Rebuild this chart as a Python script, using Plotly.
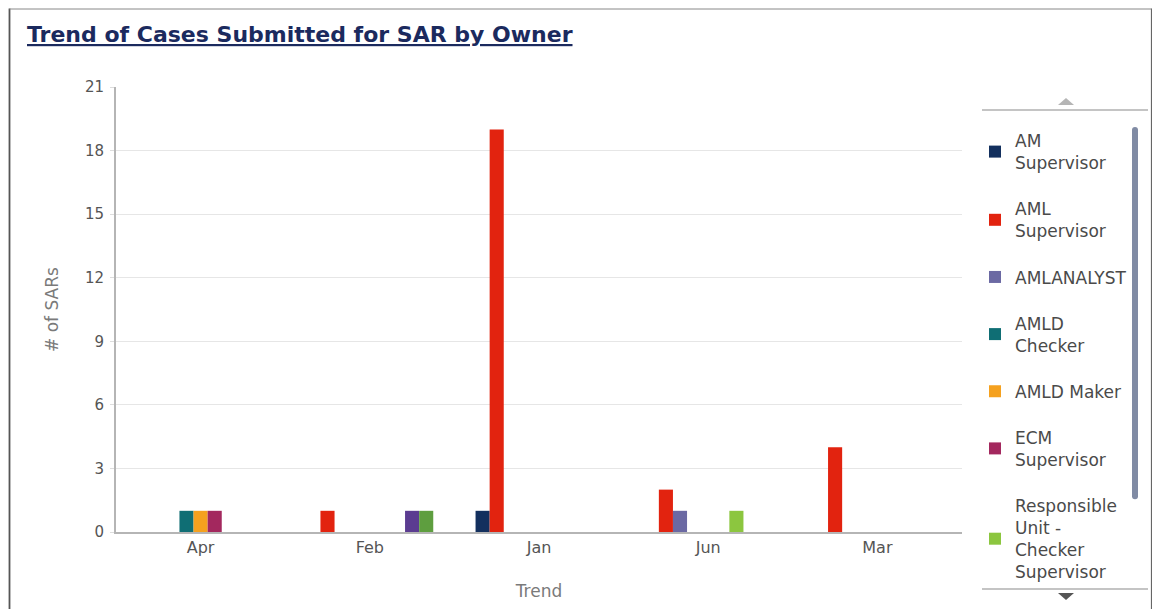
import plotly.graph_objects as go

# ---- data ----
categories = ["Apr", "Feb", "Jan", "Jun", "Mar"]
owners = [
    "AM<br>Supervisor",
    "AML<br>Supervisor",
    "AMLANALYST",
    "AMLD<br>Checker",
    "AMLD Maker",
    "ECM<br>Supervisor",
    "Responsible<br>Unit -<br>Checker<br>Supervisor",
    "User In<br>Review",
    "Unassigned",
]
am_supervisor = [0, 0, 1, 0, 0]
aml_supervisor = [0, 1, 19, 2, 4]
amlanalyst = [0, 0, 0, 1, 0]
amld_checker = [1, 0, 0, 0, 0]
amld_maker = [1, 0, 0, 0, 0]
ecm_supervisor = [1, 0, 0, 0, 0]
responsible_unit = [0, 0, 0, 1, 0]
user_in = [0, 1, 0, 0, 0]
unassigned = [0, 1, 0, 0, 0]
series = [am_supervisor, aml_supervisor, amlanalyst, amld_checker, amld_maker,
          ecm_supervisor, responsible_unit, user_in, unassigned]
colors = ["#13305E", "#E2230F", "#6B69A3", "#0F6E74", "#F5A11F",
          "#A3285E", "#8CC63F", "#5B3C91", "#5E9E3F"]
y_ticks = [0, 3, 6, 9, 12, 15, 18, 21]

# ---- layout geometry (page pixels; the page body adds an 8px offset) ----
OFF = 8
W, H = 1160 - OFF, 609 - OFF
PX0, PX1, PY0, PY1 = 116, 962, 87, 532   # plot area in page pixels
L, R = PX0 - OFF, W - (PX1 - OFF)
T, B = PY0 - OFF, H - (PY1 - OFF)
PW, PH = W - L - R, H - T - B


def px_x(x):
    return (x - OFF - L) / PW


def px_y(y):
    return (H - B - (y - OFF)) / PH


fig = go.Figure()
for i, (name, vals) in enumerate(zip(owners, series)):
    fig.add_trace(go.Bar(
        x=categories,
        y=[v if v else None for v in vals],
        name=name,
        legendgroup="g%d" % i,
        marker=dict(color=colors[i], line=dict(width=0)),
        hovertemplate="%{x}: %{y}<extra></extra>",
    ))


def hline(x0, x1, y, color, width):
    return dict(type="line", xref="paper", yref="paper",
                x0=px_x(x0), x1=px_x(x1), y0=px_y(y), y1=px_y(y),
                line=dict(color=color, width=width))


def vline(x, y0, y1, color, width):
    return dict(type="line", xref="paper", yref="paper",
                x0=px_x(x), x1=px_x(x), y0=px_y(y0), y1=px_y(y1),
                line=dict(color=color, width=width))


shapes = [
    # outer frame
    vline(9.5, 8.5, 609, "#555555", 1.8),
    vline(1151.5, 8.5, 609, "#666666", 1.2),
    hline(9.5, 1151.5, 9, "#888888", 1.0),
    # legend scroll separators
    hline(982, 1148, 110, "#8a8a8a", 1.2),
    hline(982, 1148, 589, "#8a8a8a", 1.2),
    # up arrow
    dict(type="path", xref="paper", yref="paper",
         path="M %f,%f L %f,%f L %f,%f Z" % (px_x(1058), px_y(105), px_x(1074), px_y(105),
                                           px_x(1066), px_y(98)),
         fillcolor="#b5b5b5", line=dict(width=0)),
    # down arrow
    dict(type="path", xref="paper", yref="paper",
         path="M %f,%f L %f,%f L %f,%f Z" % (px_x(1058), px_y(593), px_x(1074), px_y(593),
                                           px_x(1066), px_y(600)),
         fillcolor="#555555", line=dict(width=0)),
]

fig.update_layout(
    width=W, height=H,
    margin=dict(l=L, r=R, t=T, b=B, autoexpand=False),
    paper_bgcolor="white", plot_bgcolor="white",
    barmode="group", bargap=0.25, bargroupgap=0,
    font=dict(family="DejaVu Sans", size=15, color="#555555"),
    title=dict(
        text="<b>Trend of Cases Submitted for SAR by Owner</b>",
        x=(27 - OFF) / W, xanchor="left", xref="container",
        y=1 - (42 - OFF) / H, yanchor="bottom", yref="container",
        font=dict(family="DejaVu Sans", size=22, color="#1B2A5E", lineposition="under"),
    ),
    xaxis=dict(
        title=dict(text="Trend", font=dict(size=17, color="#7a7a7a"), standoff=29),
        showline=True, linecolor="#b5b5b5", linewidth=2,
        ticks="", tickfont=dict(size=16, color="#555555"),
        showgrid=False, fixedrange=True,
    ),
    yaxis=dict(
        title=dict(text="# of SARs", font=dict(size=17, color="#7a7a7a"), standoff=22),
        range=[0, 21], tickvals=y_ticks,
        showline=True, linecolor="#b5b5b5", linewidth=2,
        ticks="outside", ticklen=4, tickcolor="#dddddd",
        ticklabelstandoff=3,
        showgrid=True, gridcolor="#e6e6e6", gridwidth=1,
        zeroline=False, tickfont=dict(size=15, color="#555555"),
        fixedrange=True,
    ),
    legend=dict(
        x=px_x(975), xanchor="left",
        y=px_y(123), yanchor="top",
        font=dict(size=17, color="#4a4a4a"),
        tracegroupgap=21,
        bgcolor="rgba(0,0,0,0)",
        maxheight=465,
        traceorder="grouped",
    ),
    shapes=shapes,
)

fig.write_html("out.html")
